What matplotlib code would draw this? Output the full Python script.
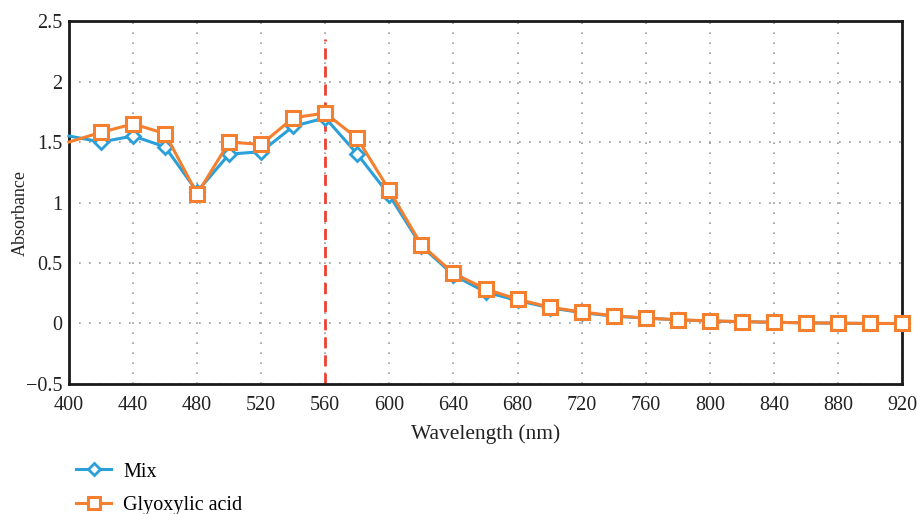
import matplotlib
matplotlib.use("Agg")
import matplotlib.pyplot as plt
import numpy as np

wavelength = [400, 420, 440, 460, 480, 500, 520, 540, 560, 580, 600, 620, 640, 660,
              680, 700, 720, 740, 760, 780, 800, 820, 840, 860, 880, 900, 920]
mix = [1.55, 1.50, 1.55, 1.46, 1.09, 1.40, 1.42, 1.63, 1.70, 1.40, 1.06, 0.64, 0.40, 0.26,
       0.19, 0.13, 0.09, 0.06, 0.045, 0.03, 0.02, 0.015, 0.01, 0.005, 0.002, 0.0, 0.0]
glyoxylic = [1.50, 1.58, 1.65, 1.57, 1.07, 1.50, 1.48, 1.70, 1.74, 1.53, 1.10, 0.65, 0.415, 0.285,
             0.20, 0.135, 0.095, 0.064, 0.045, 0.03, 0.022, 0.015, 0.01, 0.005, 0.003, 0.0, 0.0]
peak_wavelength = 560
x_ticks = list(range(400, 921, 40))
y_ticks = [-0.5, 0, 0.5, 1, 1.5, 2, 2.5]
y_tick_labels = ["\u22120.5", "0", "0.5", "1", "1.5", "2", "2.5"]

plt.rcParams['font.family'] = ['Liberation Serif', 'DejaVu Serif']

fig = plt.figure(figsize=(9.17, 5.14), dpi=100)
ax = fig.add_axes([0.0752, 0.253, 0.9085, 0.706])

blue = '#2a9fd8'
orange = '#f47f2f'

ax.plot(wavelength, mix, color=blue, lw=2.2, marker='D', markersize=7,
        markerfacecolor='white', markeredgecolor=blue, markeredgewidth=2,
        markevery=list(range(1, len(wavelength))), label='Mix', clip_on=False, zorder=3)
ax.plot(wavelength, glyoxylic, color=orange, lw=2.2, marker='s', markersize=10.5,
        markerfacecolor='white', markeredgecolor=orange, markeredgewidth=2.2,
        markevery=list(range(1, len(wavelength))), label='Glyoxylic acid', clip_on=False, zorder=4)

ax.plot([peak_wavelength, peak_wavelength], [-0.5, 2.35], color='#ee4130', lw=2,
        linestyle=(0, (4, 2.5)), zorder=2)

ax.set_xlim(400, 920)
ax.set_ylim(-0.5, 2.5)
ax.set_xticks(x_ticks)
ax.set_yticks(y_ticks)
ax.set_yticklabels(y_tick_labels)
ax.tick_params(axis='both', length=0, labelsize=14.5, colors='#222222')
ax.tick_params(axis='x', pad=9)
ax.tick_params(axis='y', pad=5)
ax.grid(True, color='#999999', linestyle=(0, (1, 5)), lw=1.2)
for s in ax.spines.values():
    s.set_color('#1a1a1a')
    s.set_linewidth(2)

ax.set_xlabel('Wavelength (nm)', fontsize=15.5, color='#222222', labelpad=6)
ax.set_ylabel('Absorbance', fontsize=13, color='#222222')
ax.yaxis.set_label_coords(-0.048, 0.47)

leg = fig.legend(loc='upper left', bbox_to_anchor=(0.074, 0.116), frameon=False,
                 fontsize=14.5, handlelength=1.75, labelspacing=0.7, borderaxespad=0,
                 handletextpad=0.6)
for h in leg.legend_handles:
    h.set_markersize(8 if h.get_marker() == 's' else 6)

fig.savefig('out.png', dpi=100)
